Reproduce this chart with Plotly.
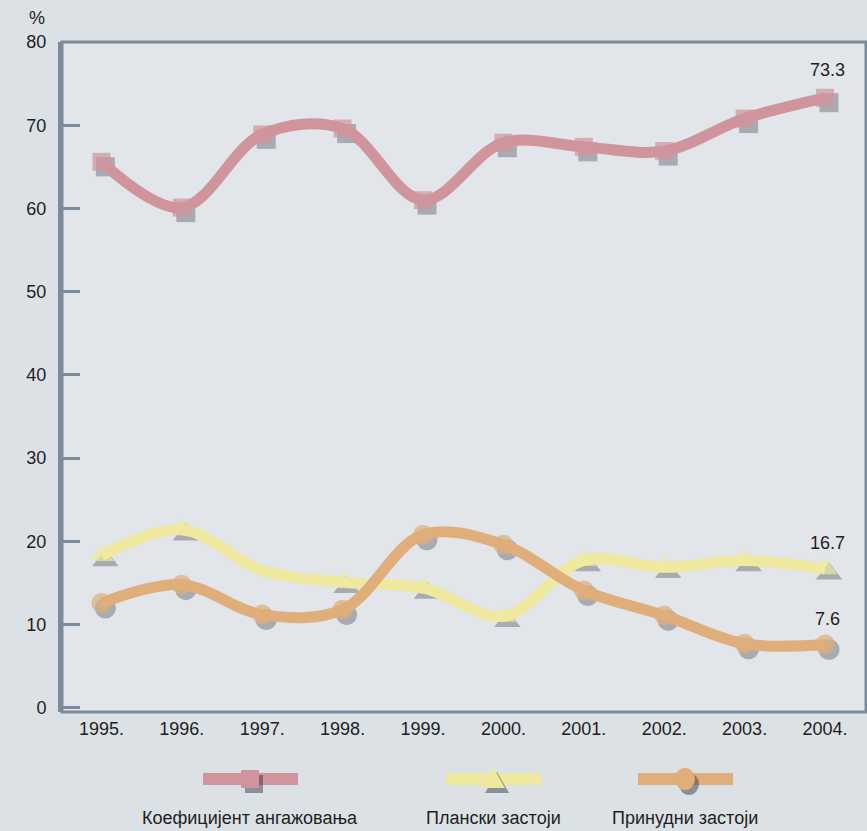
import plotly.graph_objects as go

years = ["1995.", "1996.", "1997.", "1998.", "1999.", "2000.", "2001.", "2002.", "2003.", "2004."]
koef = [65.6, 60.1, 68.9, 69.6, 61.0, 67.9, 67.4, 66.9, 70.8, 73.3]
planski = [18.3, 21.4, 16.5, 15.1, 14.4, 11.0, 17.7, 16.9, 17.7, 16.7]
prinudni = [12.6, 14.8, 11.2, 11.8, 20.8, 19.6, 14.1, 11.1, 7.7, 7.6]
planski_marker_shown = [1, 1, 0, 1, 1, 1, 1, 1, 1, 1]

series_names = ["Коефицијент ангажовања", "Плански застоји", "Принудни застоји"]
y_ticks = [0, 10, 20, 30, 40, 50, 60, 70, 80]
end_labels = ["73.3", "16.7", "7.6"]

W, H = 867, 831
L, R, T, B = 62, 1, 42, 119
PW, PH = W - L - R, H - T - B

FONT = "Arial Narrow, Liberation Sans Narrow, sans-serif"
PINK = "#cf949c"
YELLOW = "#efe9a0"
ORANGE = "#dfae7b"
AXIS = "#7b8b9a"
SHADOW = "rgba(40,45,55,0.45)"
TXT = "#1e1e1e"
FS = 18

xlo, xhi = -0.49, 9.51
ylo, yhi = -0.5, 80.0
xs = list(range(len(years)))
dx = 4 * (xhi - xlo) / PW
dy = 5 * (yhi - ylo) / PH

fig = go.Figure()

series = [
    (koef, PINK, "square", [18] * 10),
    (planski, YELLOW, "triangle-up", [22 * s for s in planski_marker_shown]),
    (prinudni, ORANGE, "circle", [20] * 10),
]

# drop shadows on the (hidden, offset) base axes -> drawn below everything
for (vals, col, sym, sizes), name in zip(series, series_names):
    fig.add_trace(go.Scatter(x=xs, y=vals, mode="markers",
                             marker=dict(symbol=sym, size=[s + 1 if s else 0 for s in sizes],
                                         color=SHADOW, line=dict(width=0)),
                             hoverinfo="skip", showlegend=False, xaxis="x", yaxis="y"))
# lines and markers on the visible axes
for (vals, col, sym, sizes), name in zip(series, series_names):
    fig.add_trace(go.Scatter(x=xs, y=vals, mode="lines", name=name,
                             line=dict(color=col, width=11, shape="spline", smoothing=1.0),
                             hoverinfo="skip", showlegend=False, xaxis="x2", yaxis="y2"))
for (vals, col, sym, sizes), name in zip(series, series_names):
    fig.add_trace(go.Scatter(x=xs, y=vals, mode="markers", name=name,
                             marker=dict(symbol=sym, size=sizes, color=col, line=dict(width=0)),
                             showlegend=False, xaxis="x2", yaxis="y2"))

for (vals, col, sym, sizes), lab in zip(series, end_labels):
    fig.add_annotation(x=xs[-1], y=vals[-1], xref="x2", yref="y2", text=lab, showarrow=False,
                       yshift=28 if lab == end_labels[0] else 26, xshift=2,
                       font=dict(family=FONT, size=FS, color=TXT))

def px(xp):
    return (xp - L) / PW

def py(yp):
    return (H - B - yp) / PH

legend_y = 779
legend_items = [(250, PINK, "square"), (493, YELLOW, "triangle"), (685, ORANGE, "circle")]
for (cx, col, kind), name in zip(legend_items, series_names):
    fig.add_shape(type="line", xref="paper", yref="paper", x0=px(cx - 47), x1=px(cx + 48),
                  y0=py(legend_y), y1=py(legend_y), line=dict(color=col, width=12))
    for off, c in [((4, 5), SHADOW), ((0, 0), col)]:
        ox, oy = off
        if kind == "square":
            fig.add_shape(type="rect", xref="paper", yref="paper",
                          x0=px(cx - 9 + ox), x1=px(cx + 9 + ox), y0=py(legend_y - 9 + oy), y1=py(legend_y + 9 + oy),
                          fillcolor=c, line=dict(width=0))
        elif kind == "circle":
            fig.add_shape(type="circle", xref="paper", yref="paper",
                          x0=px(cx - 10 + ox), x1=px(cx + 10 + ox), y0=py(legend_y - 11 + oy), y1=py(legend_y + 11 + oy),
                          fillcolor=c, line=dict(width=0))
        else:
            pts = [(cx + ox, legend_y - 12 + oy), (cx + 12 + ox, legend_y + 9 + oy), (cx - 12 + ox, legend_y + 9 + oy)]
            path = "M " + " L ".join(f"{px(a):.5f},{py(b):.5f}" for a, b in pts) + " Z"
            fig.add_shape(type="path", xref="paper", yref="paper", path=path, fillcolor=c, line=dict(width=0))
    fig.add_annotation(x=px(cx), y=py(818), xref="paper", yref="paper", text=name, showarrow=False,
                       xanchor="center", yanchor="middle", font=dict(family=FONT, size=FS, color=TXT))

fig.add_shape(type="rect", xref="paper", yref="paper", x0=0, x1=1, y0=0, y1=1,
              line=dict(color=AXIS, width=3), layer="above")

fig.add_annotation(x=px(37), y=py(18), xref="paper", yref="paper", text="%", showarrow=False,
                   xanchor="center", yanchor="middle", font=dict(family=FONT, size=FS, color=TXT))

fig.update_layout(
    width=W, height=H,
    margin=dict(l=L, r=R, t=T, b=B),
    paper_bgcolor="#dce1e6",
    plot_bgcolor="#e2e5e9",
    showlegend=False,
    font=dict(family=FONT, color=TXT, size=FS),
    xaxis=dict(range=[xlo - dx, xhi - dx], visible=False, fixedrange=True),
    yaxis=dict(range=[ylo + dy, yhi + dy], visible=False, fixedrange=True),
    xaxis2=dict(range=[xlo, xhi], overlaying="x", side="bottom", tickmode="array", tickvals=xs, ticktext=years,
                showgrid=False, zeroline=False, showline=False, ticks="", ticklabelstandoff=4,
                tickfont=dict(family=FONT, size=FS, color=TXT), fixedrange=True),
    yaxis2=dict(range=[ylo, yhi], overlaying="y", side="left", tickmode="array", tickvals=y_ticks,
                ticktext=[str(t) for t in y_ticks],
                showgrid=False, zeroline=False, showline=True, linecolor=AXIS, linewidth=4,
                ticks="inside", ticklen=18, tickwidth=3, tickcolor=AXIS, ticklabelstandoff=8,
                tickfont=dict(family=FONT, size=FS, color=TXT), fixedrange=True),
)

fig.write_html("out.html", config={"displayModeBar": False},
               post_script="document.body.style.margin='0';document.body.style.padding='0';")
